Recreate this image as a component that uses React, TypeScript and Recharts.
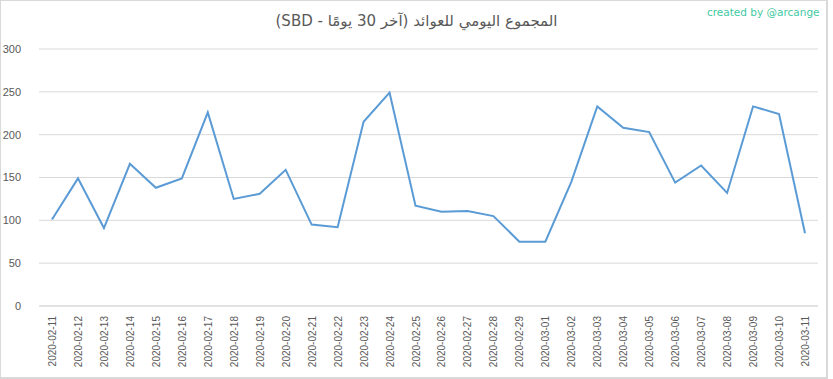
import { LineChart, Line, CartesianGrid, XAxis, YAxis } from "recharts";

const dates = [
  "2020-02-11", "2020-02-12", "2020-02-13", "2020-02-14", "2020-02-15",
  "2020-02-16", "2020-02-17", "2020-02-18", "2020-02-19", "2020-02-20",
  "2020-02-21", "2020-02-22", "2020-02-23", "2020-02-24", "2020-02-25",
  "2020-02-26", "2020-02-27", "2020-02-28", "2020-02-29", "2020-03-01",
  "2020-03-02", "2020-03-03", "2020-03-04", "2020-03-05", "2020-03-06",
  "2020-03-07", "2020-03-08", "2020-03-09", "2020-03-10", "2020-03-11",
];

const rewards = [
  101, 149, 91, 166, 138, 149, 226, 125, 131, 159,
  95, 92, 215, 249, 117, 110, 111, 105, 75, 75,
  145, 233, 208, 203, 144, 164, 132, 233, 224, 85,
];

const yTicks = [0, 50, 100, 150, 200, 250, 300];

const title = "المجموع اليومي للعوائد (آخر 30 يومًا - SBD)";

const data = dates.map((d, i) => ({ date: d, value: rewards[i] }));

const DateTick = (props: any) => {
  const { x, y, payload } = props;
  return (
    <text
      x={x}
      y={y + 2}
      transform={`rotate(-90 ${x} ${y + 2})`}
      textAnchor="end"
      dy={4}
      fill="#595959"
      fontSize={10}
      fontFamily="Liberation Sans, Arial, sans-serif"
    >
      {payload.value}
    </text>
  );
};

export default function App() {
  return (
    <div
      style={{
        position: "absolute",
        left: 0,
        top: 0,
        width: 833,
        height: 379,
        background: "#fff",
      }}
    >
      <div
        style={{
          position: "absolute",
          left: 0,
          top: 0,
          width: 828,
          height: 379,
          border: "1px solid #d9d9d9",
          borderRightWidth: 2,
          borderBottomWidth: 2,
          boxSizing: "border-box",
        }}
      />
      <div
        style={{
          position: "absolute",
          left: 0,
          width: 833,
          top: 12,
          textAlign: "center",
          direction: "rtl",
          fontFamily: "DejaVu Sans, sans-serif",
          fontSize: 15,
          color: "#595959",
        }}
      >
        {title}
      </div>
      <div
        style={{
          position: "absolute",
          left: 707,
          top: 6,
          fontFamily: "DejaVu Sans, sans-serif",
          fontSize: 10.5,
          color: "#3fcaa2",
        }}
      >
        created by @arcange
      </div>
      <LineChart
        width={833}
        height={379}
        data={data}
        margin={{ top: 49, right: 15, bottom: 0, left: 0 }}
        style={{ position: "absolute", left: 0, top: 0 }}
      >
        <CartesianGrid vertical={false} stroke="#d9d9d9" />
        <XAxis
          dataKey="date"
          interval={0}
          height={73}
          padding={{ left: 13, right: 13 }}
          axisLine={{ stroke: "#d9d9d9" }}
          tickLine={false}
          tick={<DateTick />}
        />
        <YAxis
          width={39}
          domain={[0, 300]}
          ticks={yTicks}
          axisLine={false}
          tickLine={false}
          tickMargin={12}
          tick={{
            fill: "#595959",
            fontSize: 11,
            fontFamily: "Liberation Sans, Arial, sans-serif",
          }}
        />
        <Line
          type="linear"
          dataKey="value"
          stroke="#5b9bd5"
          strokeWidth={2}
          dot={false}
          isAnimationActive={false}
        />
      </LineChart>
    </div>
  );
}
